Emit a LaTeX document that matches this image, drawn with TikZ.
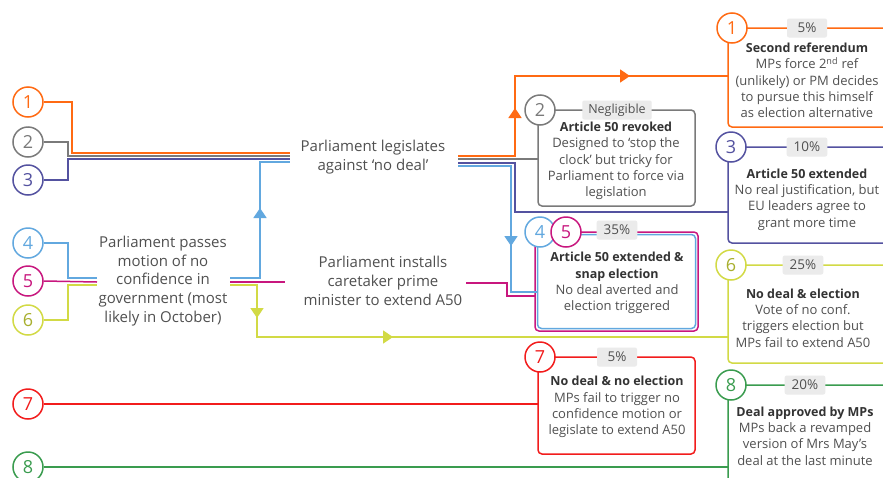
\documentclass[tikz,border=0pt]{standalone}
\usepackage{fontspec}
\setmainfont{Open Sans}
\usetikzlibrary{arrows.meta}
\definecolor{orng}{HTML}{FF6A13}
\definecolor{gry}{HTML}{7A7A7A}
\definecolor{purp}{HTML}{5452A0}
\definecolor{lblue}{HTML}{62A8DF}
\definecolor{mag}{HTML}{C8177E}
\definecolor{lime}{HTML}{D2DA45}
\definecolor{limetxt}{HTML}{A8AF2E}
\definecolor{rd}{HTML}{F21C1C}
\definecolor{grn}{HTML}{3A9C4F}
\definecolor{txt}{HTML}{505050}
\definecolor{ttl}{HTML}{333333}
\definecolor{pct}{HTML}{EBEBEB}
\newcommand{\boxtitle}[1]{{\color{ttl}\fontsize{12.5}{16}\selectfont\bfseries #1}}
\begin{document}
\begin{tikzpicture}[x=1pt,y=-1pt,
 lbl/.style={fill=pct, rounded corners=2pt, inner xsep=7pt, inner ysep=0pt, minimum height=19pt, minimum width=40pt, text=txt, font=\fontsize{13.5}{13.5}\selectfont},
 num/.style={circle, draw=#1, text=#1, fill=white, line width=1.5pt, minimum size=30pt, inner sep=0pt, font=\fontsize{18}{18}\selectfont},
 flow/.style={line width=1.5pt},
 boxtxt/.style={align=center, text=txt, font=\fontsize{13}{16.3}\selectfont},
 maintxt/.style={align=center, text=txt, font=\fontsize{15}{18.7}\selectfont},
 frame/.style={draw, line width=1.5pt, rounded corners=4pt, inner sep=0pt, outer sep=0pt, anchor=north west},
 tip/.style={-{Triangle[length=10pt,width=13pt]}, line width=1.5pt},
]
\useasboundingbox (0,0) rectangle (883,477);
\clip (0,0) rectangle (883,477);
\fill[white] (0,0) rectangle (883,477);

% frames
\node[frame,draw=orng,minimum width=200pt,minimum height=99pt] (f1) at (728,28) {};
\node[frame,draw=gry,minimum width=157pt,minimum height=96pt] (f2) at (538,110) {};
\node[frame,draw=purp,minimum width=200pt,minimum height=96pt] (f3) at (728,147) {};
\node[frame,draw=mag,minimum width=163pt,minimum height=99pt] (f5out) at (535,232) {};
\node[frame,draw=lblue,minimum width=158pt,minimum height=94pt] (f5in) at (537.5,234.5) {};
\node[frame,draw=lime,minimum width=200pt,minimum height=98pt] (f6) at (728,265) {};
\node[frame,draw=rd,minimum width=157pt,minimum height=97pt] (f7) at (538,357) {};
\node[frame,draw=grn,minimum width=200pt,minimum height=150pt] (f8) at (728,385) {};

% left circles
\node[num=orng] (c1) at (28,102) {1};
\node[num=gry] (c2) at (28,142) {2};
\node[num=purp] (c3) at (28,180) {3};
\node[num=lblue] (c4) at (28,243) {4};
\node[num=mag] (c5) at (28,281) {5};
\node[num=lime,text=limetxt] (c6) at (28,320) {6};
\node[num=rd] (c7) at (28,404) {7};
\node[num=grn] (c8) at (28,467) {8};

% main texts
\node[maintxt] (legis) at (373,157) {Parliament legislates\\against ‘no deal’};
\node[maintxt] (noconf) at (163,281) {Parliament passes\\motion of no\\confidence in\\government (most\\likely in October)};
\node[maintxt] (caretaker) at (383,281) {Parliament installs\\caretaker prime\\minister to extend A50};

% left top bundle
\draw[flow,orng] (c1.east) -- (72,102) -- (72,153) -- (290,153);
\draw[flow,gry] (c2.east) -- (68,142) -- (68,156) -- (290,156);
\draw[flow,purp] (c3.east) -- (68,180) -- (68,159) -- (290,159);
% right top bundle
\draw[flow,orng] (458,156) -- (515,156) -- (515,76) -- (f1.west |- 0,76);
\draw[flow,gry] (458,159) -- (f2.west |- 0,159);
\draw[flow,purp] (458,163) -- (515,163) -- (515,212) -- (f3.west |- 0,212);
\draw[flow,lblue] (458,166) -- (511,166) -- (511,292) -- (f5in.west |- 0,292);
% middle
\draw[flow,lblue] (c4.east) -- (68,243) -- (68,278) -- (97,278);
\draw[flow,mag] (c5.east) -- (97,282);
\draw[flow,lime] (c6.east) -- (68,320) -- (68,285) -- (97,285);
\draw[flow,lblue] (230,278) -- (260,278) -- (260,162) -- (290,162);
\draw[flow,mag] (230,282) -- (285,282);
\draw[flow,mag] (466,283) -- (507,283) -- (507,296) -- (f5out.west |- 0,296);
\draw[flow,lime] (230,285) -- (257,285) -- (257,337) -- (f6.west |- 0,337);
% bottom
\draw[flow,rd] (c7.east) -- (f7.west |- 0,404);
\draw[flow,grn] (c8.east) -- (f8.west |- 0,467);

% arrowheads
\draw[tip,orng] (515,122) -- (515,108);
\draw[tip,orng] (615,76) -- (630,76);
\draw[tip,lblue] (260,222) -- (260,208);
\draw[tip,lblue] (511,232) -- (511,246);
\draw[tip,lime] (257,305) -- (257,318);
\draw[tip,lime] (380,337) -- (393,337);

% box circles
\node[num=orng] (b1) at (732,28) {1};
\node[num=gry] (b2) at (540,110) {2};
\node[num=purp] (b3) at (731,147) {3};
\node[num=lblue] (b4) at (540,232) {4};
\node[num=mag] (b5) at (566,232) {5};
\node[num=lime,text=limetxt] (b6) at (731,265) {6};
\node[num=rd] (b7) at (540,357) {7};
\node[num=grn] (b8) at (731,385) {8};

% percentage labels
\node[lbl] (p1) at (807,28) {5\%};
\node[lbl,font=\fontsize{12.5}{12.5}\selectfont,inner xsep=6pt] (p2) at (617,110) {Negligible};
\node[lbl] (p3) at (807,147) {10\%};
\node[lbl] (p5) at (617,230) {35\%};
\node[lbl] (p6) at (803,265) {25\%};
\node[lbl] (p7) at (617,357) {5\%};
\node[lbl] (p8) at (805,385) {20\%};

% box texts
\node[boxtxt] (t1) at (807,80.5) {\boxtitle{Second referendum}\\MPs force 2\textsuperscript{nd} ref\\(unlikely) or PM decides\\to pursue this himself\\as election alternative};
\node[boxtxt] (t2) at (616,161) {\boxtitle{Article 50 revoked}\\Designed to ‘stop the\\clock’ but tricky for\\Parliament to force via\\legislation};
\node[boxtxt] (t3) at (807,199.5) {\boxtitle{Article 50 extended}\\No real justification, but\\EU leaders agree to\\grant more time};
\node[boxtxt] (t5) at (617,283) {\boxtitle{Article 50 extended \&}\\\boxtitle{snap election}\\No deal averted and\\election triggered};
\node[boxtxt] (t6) at (803,318) {\boxtitle{No deal \& election}\\Vote of no conf.\\triggers election but\\MPs fail to extend A50};
\node[boxtxt] (t7) at (617,407) {\boxtitle{No deal \& no election}\\MPs fail to trigger no\\confidence motion or\\legislate to extend A50};
\node[boxtxt] (t8) at (805,436) {\boxtitle{Deal approved by MPs}\\MPs back a revamped\\version of Mrs May’s\\deal at the last minute};
\end{tikzpicture}
\end{document}
